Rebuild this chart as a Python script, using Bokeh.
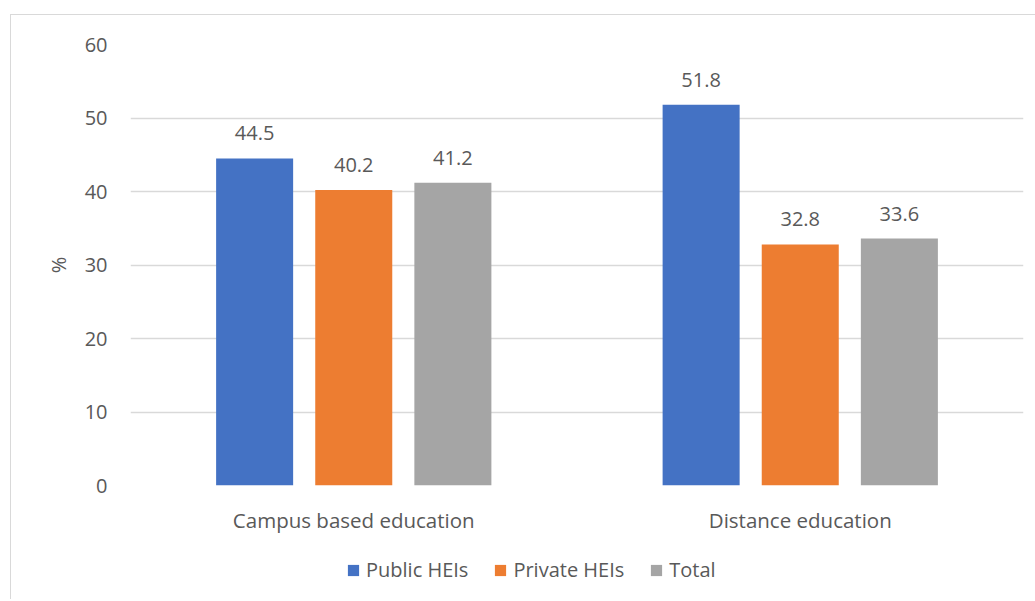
from bokeh.plotting import figure
from bokeh.models import ColumnDataSource, LabelSet, Legend, LegendItem, FactorRange, Range1d
from bokeh.layouts import column
from bokeh.transform import dodge
from bokeh.core.properties import value
from bokeh.embed import file_html
from bokeh.resources import INLINE

categories = ["Campus based education", "Distance education"]
series = ["Public HEIs", "Private HEIs", "Total"]
public_vals = [44.5, 51.8]
private_vals = [40.2, 32.8]
total_vals = [41.2, 33.6]
colors = ["#4472C4", "#ED7D31", "#A5A5A5"]
y_ticks = [0, 10, 20, 30, 40, 50, 60]

FONT = "Open Sans"
TXT = "#595959"
FS = "20px"

src = ColumnDataSource(dict(
    cat=categories,
    public=public_vals, private=private_vals, total=total_vals,
    public_l=[f"{v:.1f}" for v in public_vals],
    private_l=[f"{v:.1f}" for v in private_vals],
    total_l=[f"{v:.1f}" for v in total_vals],
))

p = figure(x_range=FactorRange(*categories, range_padding=0), y_range=(0, 60),
           width=1024, height=530, output_backend="svg", toolbar_location=None,
           min_border_left=119, min_border_right=12, min_border_top=29, min_border_bottom=60)
p.outline_line_color = None
p.background_fill_color = "white"
p.border_fill_color = "white"

cols = ["public", "private", "total"]
offsets = [-0.222, 0.0, 0.222]
for c, off, col in zip(cols, offsets, colors):
    p.vbar(x=dodge("cat", off, range=p.x_range), top=c, width=0.1725, source=src,
           fill_color=col, line_color=None)
    lbl = LabelSet(x=dodge("cat", off, range=p.x_range), y=c, text=c + "_l", source=src,
                   text_align="center", text_baseline="middle", y_offset=25,
                   text_font=value(FONT), text_font_size=FS, text_color=TXT)
    p.add_layout(lbl)

p.xgrid.grid_line_color = None
p.ygrid.grid_line_color = "#D9D9D9"
p.ygrid.grid_line_width = 1.5
p.yaxis.ticker = y_ticks
for ax in (p.xaxis[0], p.yaxis[0]):
    ax.axis_line_color = None
    ax.major_tick_line_color = None
    ax.minor_tick_line_color = None
    ax.major_tick_out = 0
    ax.major_tick_in = 0
    ax.minor_tick_out = 0
    ax.major_label_text_font = FONT
    ax.major_label_text_font_size = FS
    ax.major_label_text_color = TXT
p.xaxis.major_label_text_font_size = "20.5px"
p.xaxis.major_label_standoff = 20
p.yaxis.major_label_standoff = 23
p.yaxis.axis_label = "%"
p.yaxis.axis_label_text_font = FONT
p.yaxis.axis_label_text_font_size = FS
p.yaxis.axis_label_text_font_style = "normal"
p.yaxis.axis_label_text_color = TXT
p.yaxis.axis_label_standoff = 10

# legend strip below the chart (its frame is aligned with the chart's frame)
lp = figure(width=1024, height=54, output_backend="svg", toolbar_location=None,
            x_range=Range1d(0, 1), y_range=Range1d(0, 1),
            x_axis_location=None, y_axis_location=None,
            min_border=0, min_border_left=0, min_border_right=0,
            min_border_top=0, min_border_bottom=0)
lp.outline_line_color = None
lp.xgrid.visible = False
lp.ygrid.visible = False
items = []
for s, c, col in zip(series, cols, colors):
    # hidden renderers: only their legend swatches are drawn
    r = lp.vbar(x=c, top=c, width=0.1, source=src, fill_color=col, line_color=None,
                visible=False)
    items.append(LegendItem(label=s, renderers=[r]))
legend = Legend(items=items, orientation="horizontal", location=(216, 16),
                label_text_font=FONT, label_text_font_size=FS, label_text_color=TXT,
                glyph_width=14, glyph_height=14, label_standoff=6, spacing=25,
                label_height=20, padding=0, margin=0,
                inactive_fill_alpha=0,
                border_line_color=None, background_fill_alpha=0)
lp.add_layout(legend, "center")

layout = column(p, lp, spacing=0,
                styles={"margin-left": "10px", "margin-top": "14px",
                        "border-left": "1px solid #D9D9D9", "border-top": "1px solid #D9D9D9"})

open("out.html", "w").write(file_html(layout, INLINE))
